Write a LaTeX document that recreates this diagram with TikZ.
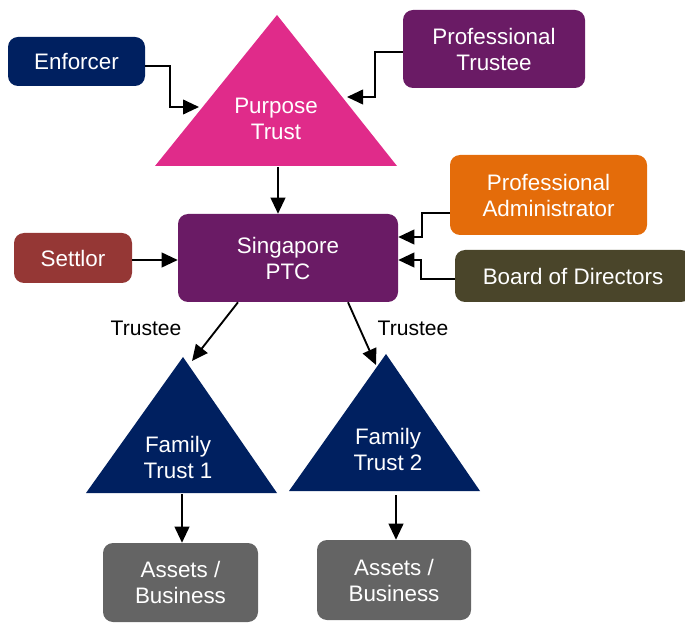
\documentclass[tikz,border=0pt]{standalone}
\usepackage{fontspec}
\setmainfont{Liberation Sans}
\usetikzlibrary{arrows.meta,calc}
\definecolor{navy}{HTML}{002060}
\definecolor{pinkc}{HTML}{E02B8A}
\definecolor{purp}{HTML}{6A1B65}
\definecolor{orng}{HTML}{E46C0A}
\definecolor{setc}{HTML}{953735}
\definecolor{olive}{HTML}{4A452A}
\definecolor{grayc}{HTML}{646464}
\tikzset{
  box/.style={rounded corners=7.5pt, draw=none, text=white, align=center,
    font=\fontsize{16.8}{19.5}\selectfont, inner sep=0pt},
  lbl/.style={text=white, align=center, font=\fontsize{16.8}{19.5}\selectfont, inner sep=0pt},
  plain/.style={text=black, font=\fontsize{15.8}{18}\selectfont, inner sep=0pt},
  arr/.style={line width=1.4pt, -{Triangle[length=12pt,width=11pt]}}
}
\begin{document}
\begin{tikzpicture}[x=0.75pt,y=-0.75pt]
\useasboundingbox (0,0) rectangle (685,623);
% boxes
\node[box, fill=navy, minimum width=102.75pt, minimum height=36.75pt] (enf) at (76.5,61.5) {Enforcer};
\node[box, fill=purp, minimum width=136.5pt, minimum height=58.5pt] (pt) at (494,49) {Professional\\Trustee};
\node[box, fill=purp, minimum width=165pt, minimum height=66pt] (ptc) at (288,258) {Singapore\\PTC};
\node[box, fill=setc, minimum width=88.5pt, minimum height=37.5pt] (set) at (73,258) {Settlor};
\node[box, fill=orng, minimum width=147.75pt, minimum height=60pt] (pa) at (548.5,195) {Professional\\Administrator};
\node[box, fill=olive, minimum width=177pt, minimum height=39pt] (bod) at (573,276) {Board of Directors};
\node[box, fill=grayc, minimum width=116.25pt, minimum height=59.25pt] (a1) at (180.5,582.5) {Assets /\\Business};
\node[box, fill=grayc, minimum width=115.5pt, minimum height=60pt] (a2) at (394,580) {Assets /\\Business};
% triangles
\fill[pinkc] (277,15) -- (397,166) -- (155,166) -- cycle;
\fill[navy] (183,357) -- (277,493) -- (86,493) -- cycle;
\fill[navy] (386,354) -- (480,491) -- (289,491) -- cycle;
\node[lbl] (purpose) at (276,119) {Purpose\\Trust};
\node[lbl] (ft1) at (178,457) {Family\\Trust 1};
\node[lbl] (ft2) at (388,449) {Family\\Trust 2};
% connector points on triangles
\coordinate (pin1) at (199,107);
\coordinate (pin2) at (347,97);
\coordinate (pbase) at (278,167);
\coordinate (ft1in) at (192,361);
\coordinate (ft2in) at (376,365);
\coordinate (ft1base) at (182,494);
\coordinate (ft2base) at (396,495);
% labels
\node[plain] (tr1) at (146,328) {Trustee};
\node[plain] (tr2) at (413,328) {Trustee};
% arrows
\draw[arr] ([yshift=-3.4pt]enf.east) -- ++(25,0) |- (pin1);
\draw[arr] ([yshift=-2.25pt]pt.west) -- ++(-28,0) |- (pin2);
\draw[arr] (pbase) -- (pbase |- ptc.north);
\draw[arr] ([yshift=-1.5pt]set.east) -- ([yshift=-1.5pt]ptc.west);
\draw[arr] ([yshift=-13.5pt]pa.west) -- ++(-28,0) |- ([yshift=15.75pt]ptc.east);
\draw[arr] ([yshift=-2.25pt]bod.west) -- ++(-34,0) |- ([yshift=-1.5pt]ptc.east);
\draw[arr] ([xshift=-37.5pt]ptc.south) -- (ft1in);
\draw[arr] ([xshift=45pt]ptc.south) -- (ft2in);
\draw[arr] (ft1base) -- (ft1base |- a1.north);
\draw[arr] (ft2base) -- (ft2base |- a2.north);
\end{tikzpicture}
\end{document}
